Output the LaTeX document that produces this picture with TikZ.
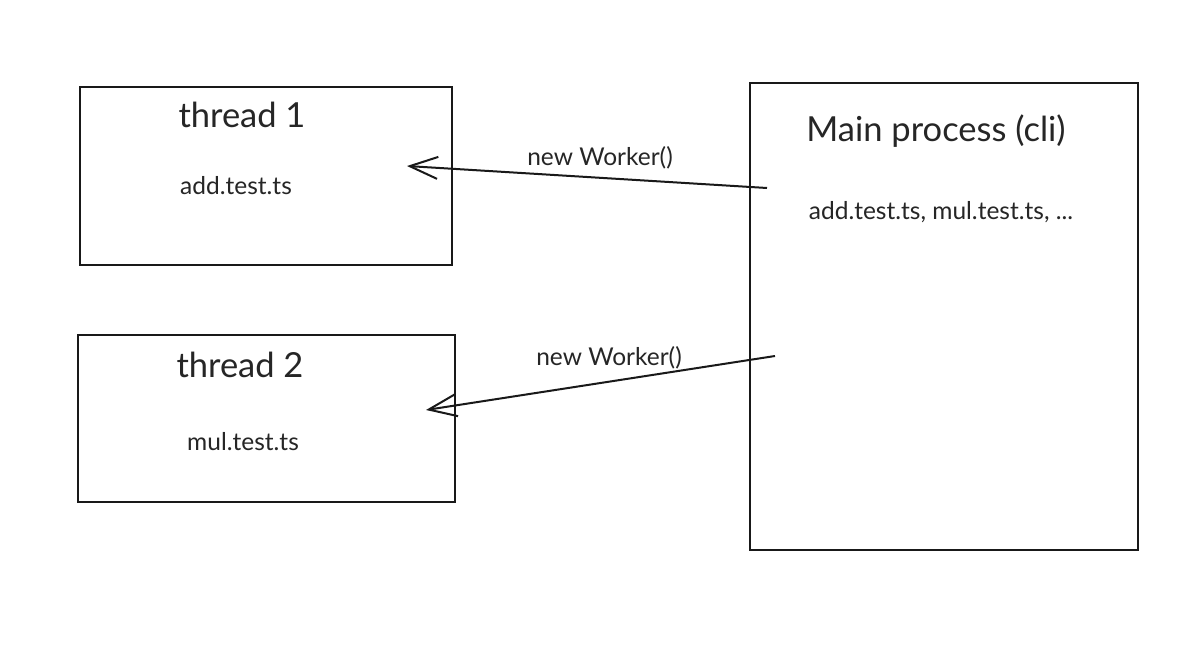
\documentclass[tikz,border=0pt]{standalone}
\usepackage{fontspec}
\setmainfont{Lato}
\usetikzlibrary{arrows.meta}
\tikzset{
  box/.style={draw,line width=2pt,black!90},
  title/.style={font=\fontsize{34.5}{40}\selectfont,text=black!85},
  file/.style={font=\fontsize{24.5}{29}\selectfont,text=black!85},
  spawn/.style={line width=2pt,black!90,-{Straight Barb[length=28pt,width=22pt,line width=2pt]}}
}
\begin{document}
\begin{tikzpicture}[x=1pt,y=-1pt]
                \useasboundingbox[fill=white] (0,0) rectangle (1200,645);
                %% boxes
                \draw[box] (80,87) rectangle (452,265);
                \draw[box] (78,335) rectangle (455,502);
                \draw[box] (750,83) rectangle (1138,550);
                %% thread 1
                \node[title] (thread1) at (242,115) {thread 1};
                \node[file] (addfile) at (236,186) {add.test.ts};
                %% thread 2
                \node[title] (thread2) at (240,365) {thread 2};
                \node[file] (mulfile) at (243,442) {mul.test.ts};
                %% main process
                \node[title] (main) at (936,131) {Main process (cli)};
                \node[file] (allfiles) at (941,212) {add.test.ts, mul.test.ts, ...};
                %% workers
                \coordinate (from1) at (767,188);
                \coordinate (to1) at (407,166);
                \coordinate (from2) at (775,356);
                \coordinate (to2) at (426,410);
                \draw[spawn] (from1) -- (to1);
                \draw[spawn] (from2) -- (to2);
                \node[file] (label1) at (600,158) {new Worker()};
                \node[file] (label2) at (609,358) {new Worker()};
            \end{tikzpicture}
\end{document}
